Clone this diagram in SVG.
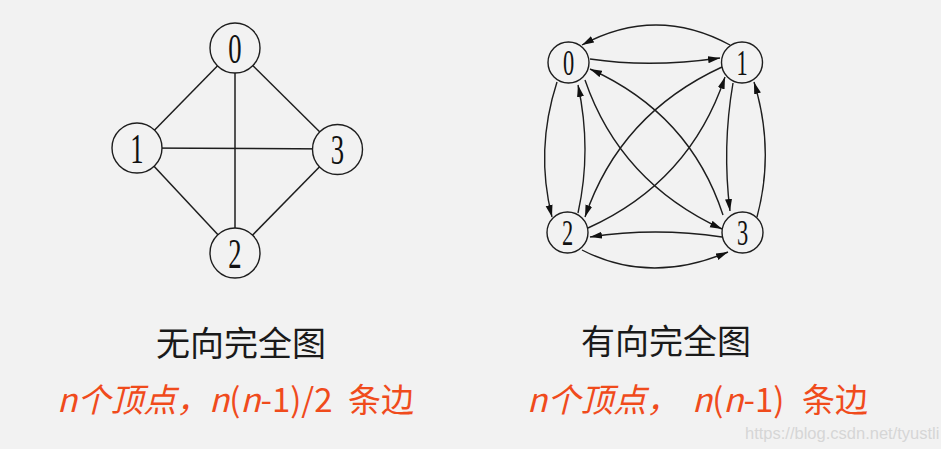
<svg xmlns="http://www.w3.org/2000/svg" width="941" height="449" viewBox="0 0 941 449">
  <style>
    .edge { fill: none; stroke: #1e1e1e; stroke-width: 1.5; }
    .arc { fill: none; stroke: #1e1e1e; stroke-width: 1.4; marker-end: url(#ah); }
    .node { fill: #f2f2f2; stroke: #1e1e1e; stroke-width: 1.4; }
    .dl { font-family: "Liberation Serif", "Times New Roman", serif; font-size: 43px; fill: #111; text-anchor: middle; }
    .dr { font-family: "Liberation Serif", "Times New Roman", serif; font-size: 35px; fill: #111; text-anchor: middle; }
    .head { font-family: "Noto Sans CJK SC", "Noto Sans", sans-serif; font-size: 34px; fill: #1a1a1a; }
    .red { font-family: "Noto Sans CJK SC", "Noto Sans", sans-serif; font-size: 33px; fill: #f04b1c; }
    .wm { font-family: "Liberation Sans", Arial, sans-serif; font-size: 16.5px; fill: #d6d6d6; }
  </style>
  <defs>
    <marker id="ah" markerUnits="userSpaceOnUse" markerWidth="13" markerHeight="8" refX="12" refY="4" orient="auto">
      <path d="M0,0.5 L12,4 L0,7.5 z" fill="#111"/>
    </marker>
  </defs>
  <rect width="941" height="449" fill="#f2f2f2"/>

  <!-- Undirected complete graph -->
  <g id="undirected-edges">
    <line class="edge" x1="235" y1="48" x2="137" y2="148"/>
    <line class="edge" x1="235" y1="48" x2="337" y2="149"/>
    <line class="edge" x1="235" y1="48" x2="235" y2="253"/>
    <line class="edge" x1="137" y1="148" x2="337" y2="149"/>
    <line class="edge" x1="137" y1="148" x2="235" y2="253"/>
    <line class="edge" x1="337" y1="149" x2="235" y2="253"/>
  </g>
  <g id="u0"><circle class="node" cx="235" cy="48" r="25"/><text class="dl" transform="translate(235,62.5) scale(0.62,1)">0</text></g>
  <g id="u1"><circle class="node" cx="137" cy="148" r="25"/><text class="dl" transform="translate(137,162.5) scale(0.62,1)">1</text></g>
  <g id="u3"><circle class="node" cx="337.5" cy="149.5" r="25"/><text class="dl" transform="translate(337.5,164) scale(0.62,1)">3</text></g>
  <g id="u2"><circle class="node" cx="235" cy="253" r="25"/><text class="dl" transform="translate(235,267.5) scale(0.62,1)">2</text></g>

  <!-- Directed complete graph -->
  <g id="directed-edges">
    <path class="arc" d="M730,45 Q656,5 582,45"/>
    <path class="arc" d="M590,59 Q650,68 720,58"/>
    <path class="arc" d="M557,82 Q535,150 552,217"/>
    <path class="arc" d="M578,213 Q592,150 578,85"/>
    <path class="arc" d="M733,83 Q722,147 730,211"/>
    <path class="arc" d="M757,217 Q775,150 754,82"/>
    <path class="arc" d="M582,250 Q650,285 728,252"/>
    <path class="arc" d="M722,237 Q655,227 590,237"/>
    <path class="arc" d="M585,80 Q620,182 722,229"/>
    <path class="arc" d="M723,215 Q690,114 590,69"/>
    <path class="arc" d="M722,67 Q620,114 585,217"/>
    <path class="arc" d="M588,228 Q690,182 725,77"/>
  </g>
  <g id="d0"><circle class="node" cx="568.5" cy="62.5" r="20.5"/><text class="dr" transform="translate(568.5,74.5) scale(0.64,1)">0</text></g>
  <g id="d1"><circle class="node" cx="742" cy="62.5" r="20.5"/><text class="dr" transform="translate(742,74.5) scale(0.64,1)">1</text></g>
  <g id="d2"><circle class="node" cx="567.5" cy="232.5" r="20.5"/><text class="dr" transform="translate(567.5,244.5) scale(0.64,1)">2</text></g>
  <g id="d3"><circle class="node" cx="742.5" cy="232.5" r="20.5"/><text class="dr" transform="translate(742.5,244.5) scale(0.64,1)">3</text></g>

  <!-- Captions -->
  <text class="head" x="156" y="356">无向完全图</text>
  <text class="head" x="581" y="354">有向完全图</text>

  <text class="red" y="412"><tspan x="57" font-style="italic">n个顶点，</tspan><tspan x="209" font-style="italic">n</tspan><tspan>(</tspan><tspan font-style="italic">n</tspan><tspan>-1)/2</tspan><tspan x="348">条边</tspan></text>
  <text class="red" y="412"><tspan x="527" font-style="italic">n个顶点，</tspan><tspan x="692" font-style="italic">n</tspan><tspan>(</tspan><tspan font-style="italic">n</tspan><tspan>-1)</tspan><tspan x="802">条边</tspan></text>

  <text class="wm" x="745" y="439">https://blog.csdn.net/tyustli</text>
</svg>
